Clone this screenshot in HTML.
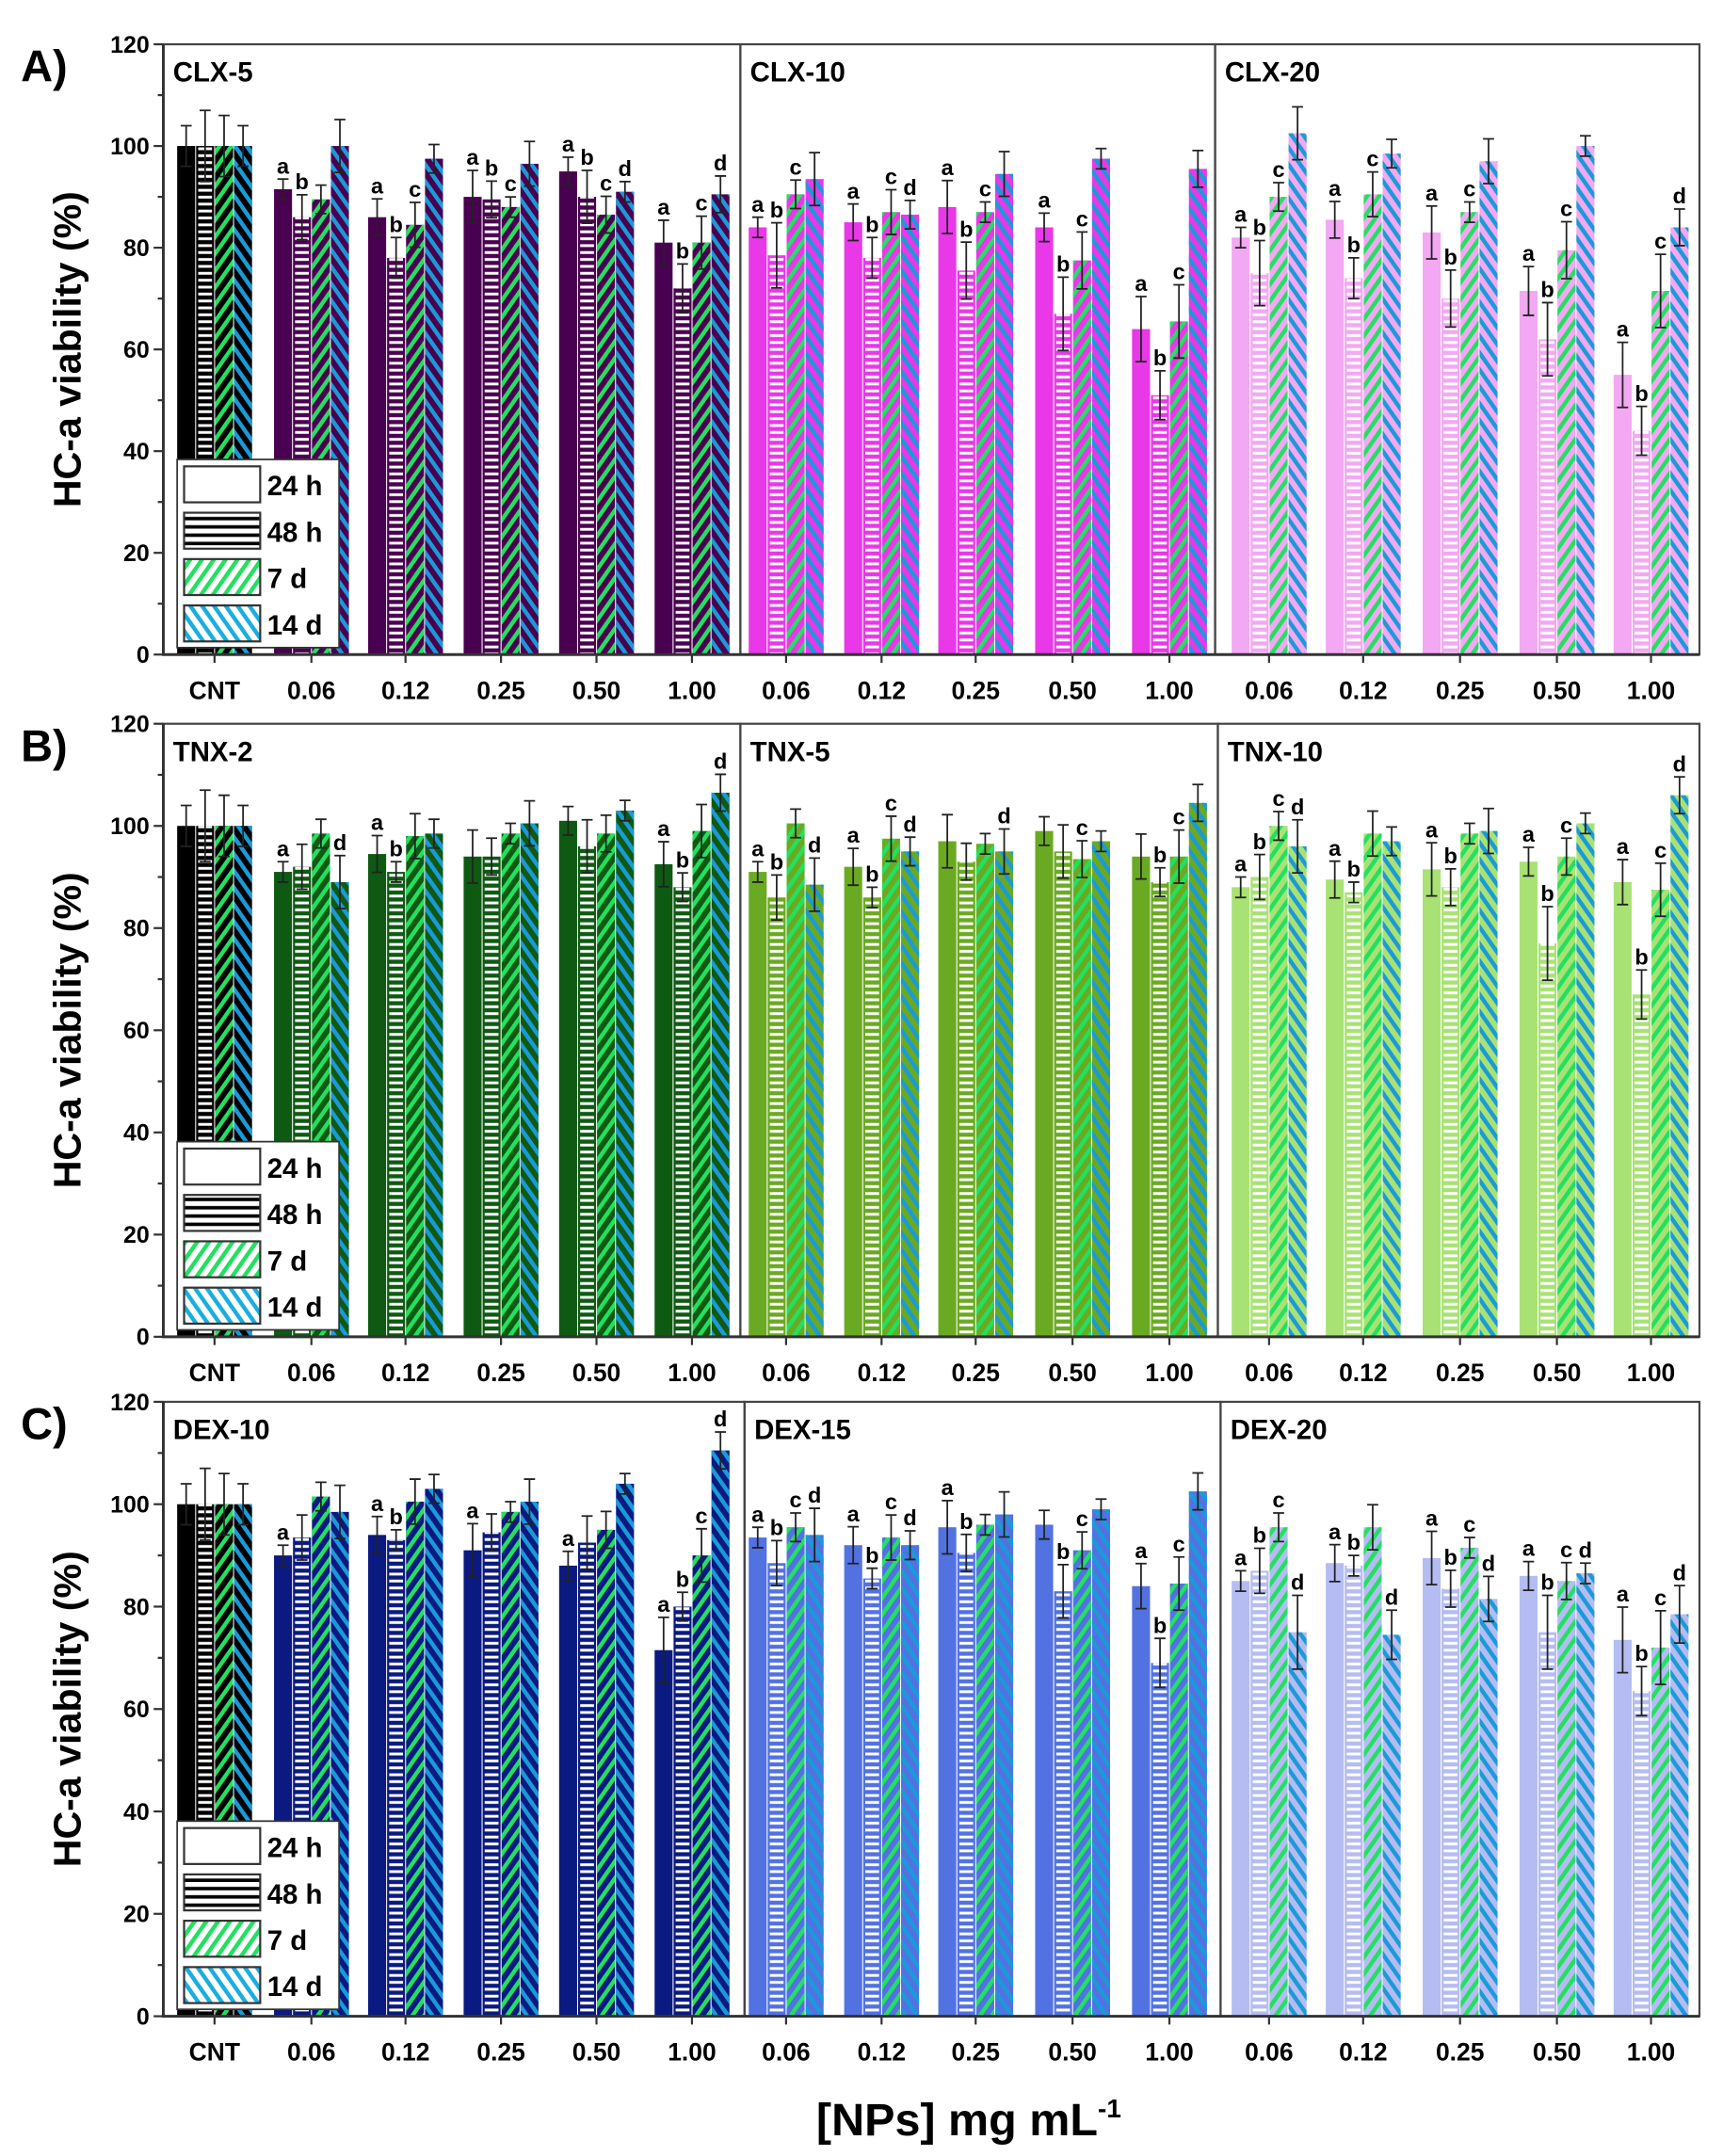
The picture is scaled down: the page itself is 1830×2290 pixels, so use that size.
<!DOCTYPE html>
<html><head><meta charset="utf-8"><style>
html,body{margin:0;padding:0;background:#fff;}
svg{display:block;font-family:"Liberation Sans",sans-serif;}
</style></head><body>
<svg id="s" width="1830" height="2290" viewBox="0 0 1245 1558" xmlns="http://www.w3.org/2000/svg">
<defs>
<pattern id="ph" width="6" height="5" patternUnits="userSpaceOnUse"><rect x="0" y="1.5" width="6" height="2" fill="#fff"/></pattern>
<pattern id="pg" width="7" height="7" patternUnits="userSpaceOnUse" patternTransform="rotate(35)"><rect x="0" y="0" width="3" height="7" fill="#22e060"/></pattern>
<pattern id="pb" width="7" height="7" patternUnits="userSpaceOnUse" patternTransform="rotate(-35)"><rect x="0" y="0" width="3" height="7" fill="#1a9ad8"/></pattern>
<pattern id="pgl" width="7" height="7" patternUnits="userSpaceOnUse" patternTransform="rotate(35)"><rect width="7" height="7" fill="#fff"/><rect x="0" y="0" width="3" height="7" fill="#22e060"/></pattern>
<pattern id="pbl" width="7" height="7" patternUnits="userSpaceOnUse" patternTransform="rotate(-35)"><rect width="7" height="7" fill="#fff"/><rect x="0" y="0" width="3" height="7" fill="#1aaee0"/></pattern>
<pattern id="phl" width="6" height="6" patternUnits="userSpaceOnUse"><rect width="6" height="6" fill="#fff"/><rect x="0" y="1.5" width="6" height="2.5" fill="#000"/></pattern>
</defs>
</svg>
<script>
var s=document.getElementById('s'),o='';
var panels=[
 {lab:'A)',top:32,bot:473,div:[535,878],names:['CLX-5','CLX-10','CLX-20'],cols:['#4a0050','#e838e8','#f2a8f2'],
  d:[[[91.5,86,89.5,100],[86,78,84.5,97.5],[90,89.5,88,96.5],[95,90,86.5,91],[81,72,81,90.5]],
     [[84,78.5,90.5,93.5],[85,78,87,86.5],[88,75.5,87,94.5],[84,67,77.5,97.5],[64,51,65.5,95.5]],
     [[82,75,90,102.5],[85.5,74,90.5,98.5],[83,70,87,97],[71.5,62,79.5,100],[55,44,71.5,84]]],
  L:[['ab--','abc-','abc-','abcd','abcd'],['abc-','abcd','abc-','abc-','abc-'],['abc-','abc-','abc-','abc-','abcd']]},
 {lab:'B)',top:523,bot:966,div:[535,880],names:['TNX-2','TNX-5','TNX-10'],cols:['#0e5a12','#6aaa22','#a8e274'],
  d:[[[91,92,98.5,89],[94.5,91,98,98.5],[94,94,98.5,100.5],[101,96,98.5,103],[92.5,88,99,106.5]],
     [[91,86,100.5,88.5],[92,86,97.5,95],[97,93,96.5,95],[99,95,93.5,97],[94,89,94,104.5]],
     [[88,90,100,96],[89.5,87,98.5,97],[91.5,88,98.5,99],[93,77,94,100.5],[89,67,87.5,106]]],
  L:[['a--d','ab--','----','----','ab-d'],['ab-d','abcd','---d','--c-','-bc-'],['abcd','ab--','ab--','abc-','abcd']]},
 {lab:'C)',top:1013,bot:1457,div:[538,882],names:['DEX-10','DEX-15','DEX-20'],cols:['#0a1a80','#5272e2','#b4bcf2'],
  d:[[[90,93.5,101.5,98.5],[94,93,100.5,103],[91,94.5,98.5,100.5],[88,92.5,95,104],[71.5,80,90,110.5]],
     [[93.5,88.5,95.5,94],[92,85.5,93.5,92],[95.5,90.5,96,98],[96,83,91,99],[84,69,84.5,102.5]],
     [[85,87,95.5,75],[88.5,88,95.5,74.5],[89.5,83.5,91.5,81.5],[86,75,85,86.5],[73.5,63.5,72,78.5]]],
  L:[['a---','ab--','a---','a---','abcd'],['abcd','abcd','ab--','-bc-','abc-'],['abcd','ab-d','abcd','abcd','abcd']]}
];
var centers=[[225,293,362,431,500],[568,637,705,775,845],[917,985,1055,1125,1193]];
var X0=118,X1=1228;
function bar(cx,i,v,col,y0,k,err,lt){
  var w=13,x=cx-27+i*13.7,h=v*k,y=y0-h;
  o+='<rect x="'+x+'" y="'+y+'" width="'+w+'" height="'+h+'" fill="'+col+'"/>';
  if(i==1)o+='<rect x="'+(x+1.5)+'" y="'+y+'" width="'+(w-3)+'" height="'+h+'" fill="url(#ph)"/>';
  if(i==2)o+='<rect x="'+x+'" y="'+y+'" width="'+w+'" height="'+h+'" fill="url(#pg)"/>';
  if(i==3)o+='<rect x="'+x+'" y="'+y+'" width="'+w+'" height="'+h+'" fill="url(#pb)"/>';
  var ex=x+w/2,e=err*k;
  o+='<path d="M'+ex+' '+(y-e)+'V'+(y+e)+'M'+(ex-4)+' '+(y-e)+'h8M'+(ex-4)+' '+(y+e)+'h8" stroke="#222" stroke-width="1.2" fill="none"/>';
  if(lt&&lt!='-')o+='<text x="'+ex+'" y="'+(y-e-4)+'" font-size="16" font-weight="bold" text-anchor="middle">'+lt+'</text>';
}
panels.forEach(function(p,pi){
  var y0=p.bot,k=(p.bot-p.top)/120;
  // subpanel frames
  var xs=[X0,p.div[0],p.div[1],X1];
  for(var j=0;j<3;j++)o+='<rect x="'+xs[j]+'" y="'+p.top+'" width="'+(xs[j+1]-xs[j])+'" height="'+(p.bot-p.top)+'" fill="none" stroke="#444" stroke-width="1.5"/>';
  // CNT
  var errs=[4,7,6,4];
  for(var i=0;i<4;i++)bar(155,i,100,'#000',y0,k,errs[i],'');
  for(var j=0;j<3;j++){
    o+='<text x="'+(xs[j]+7)+'" y="'+(p.top+27)+'" font-size="20" font-weight="bold">'+p.names[j]+'</text>';
    for(var g=0;g<5;g++)for(var i=0;i<4;i++){
      var v=p.d[j][g][i];var er=2+((g*7+i*3+j*5)%5)*0.8; if(v<80)er+=2;
      bar(centers[j][g],i,v,p.cols[j],y0,k,er,p.L[j][g][i]);
    }
  }
  // axis
  o+='<path d="M'+X0+' '+p.top+'V'+p.bot+'H'+X1+'" stroke="#333" stroke-width="2" fill="none"/>';
  for(var t=0;t<=120;t+=10){var yy=y0-t*k;
    o+='<line x1="'+(X0-(t%20?4:7))+'" y1="'+yy+'" x2="'+X0+'" y2="'+yy+'" stroke="#333" stroke-width="1.5"/>';
    if(t%20==0)o+='<text x="'+(X0-10)+'" y="'+(yy+6)+'" font-size="17" font-weight="bold" text-anchor="end">'+t+'</text>';}
  var labs=['CNT','0.06','0.12','0.25','0.50','1.00'],cx=[155].concat(centers[0]);
  cx=cx.concat(centers[1],centers[2]);labs=labs.concat(labs.slice(1),labs.slice(1));
  cx.forEach(function(c,ii){o+='<line x1="'+c+'" y1="'+y0+'" x2="'+c+'" y2="'+(y0+6)+'" stroke="#333" stroke-width="1.5"/>';
    o+='<text x="'+c+'" y="'+(y0+32)+'" font-size="18" font-weight="bold" text-anchor="middle">'+labs[ii]+'</text>';});
  o+='<text x="15" y="'+(p.top+27)+'" font-size="32" font-weight="bold">'+p.lab+'</text>';
  o+='<text transform="translate(58,'+((p.top+p.bot)/2)+') rotate(-90)" font-size="28" font-weight="bold" text-anchor="middle">HC-a viability (%)</text>';
  // legend
  var ly=p.bot-141;
  o+='<rect x="128" y="'+ly+'" width="117" height="136" fill="#fff" stroke="#333" stroke-width="1.2"/>';
  var fills=['#fff','url(#phl)','url(#pgl)','url(#pbl)'],nm=['24 h','48 h','7 d','14 d'];
  for(var i=0;i<4;i++){var yy=ly+5+i*33.5;
    o+='<rect x="133" y="'+yy+'" width="55" height="26" fill="'+fills[i]+'" stroke="#333" stroke-width="1.5"/>';
    o+='<text x="193" y="'+(yy+21)+'" font-size="20" font-weight="bold">'+nm[i]+'</text>';}
});
o+='<text x="700" y="1543" font-size="33" font-weight="bold" text-anchor="middle">[NPs] mg mL<tspan dy="-13" font-size="19">-1</tspan></text>';
s.insertAdjacentHTML('beforeend',o);
</script>
</body></html>
